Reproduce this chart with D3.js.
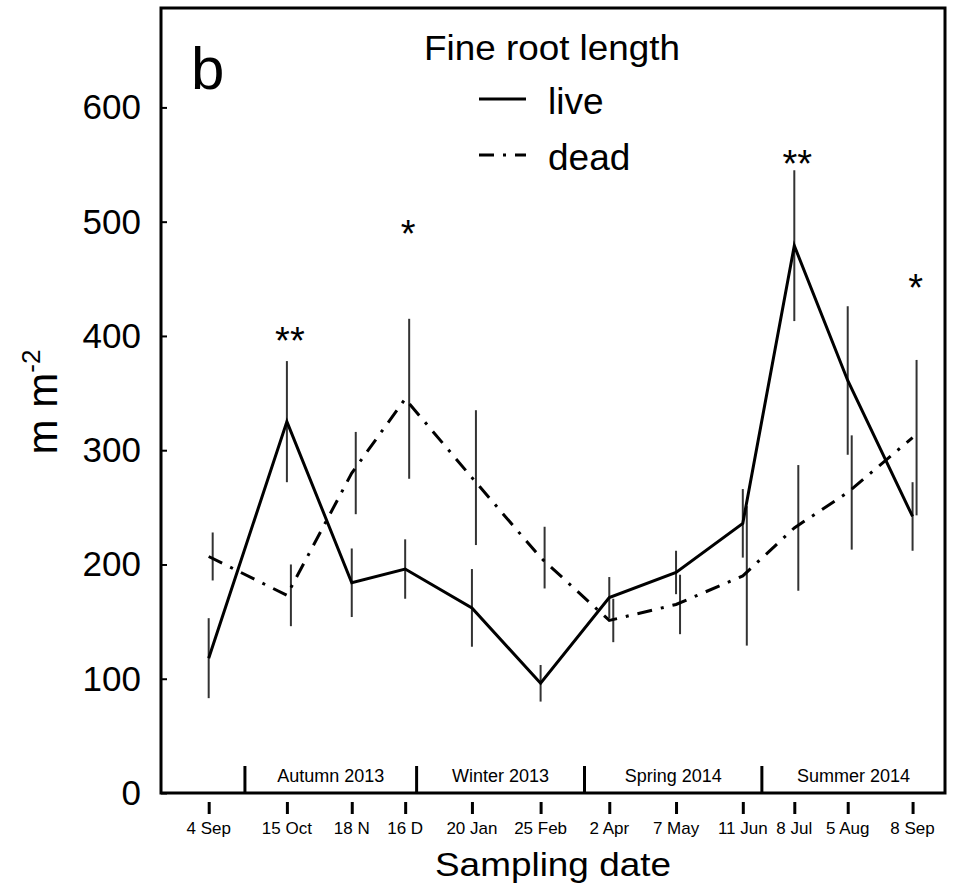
<!DOCTYPE html>
<html>
<head>
<meta charset="utf-8">
<script src="https://cdn.jsdelivr.net/npm/d3@7"></script>
<style>
  body { margin: 0; background: #fff; }
  text { font-family: "Liberation Sans", Arial, sans-serif; fill: #000; }
  .narrow { font-family: "Liberation Sans Narrow", "Arial Narrow", "Liberation Sans", sans-serif; }
</style>
</head>
<body>
<svg id="chart"></svg>
<script>
// sampling dates and values (m m-2)
const dates = ["2013-09-04", "2013-10-15", "2013-11-18", "2013-12-16", "2014-01-20", "2014-02-25",
               "2014-04-02", "2014-05-07", "2014-06-11", "2014-07-08", "2014-08-05", "2014-09-08"];
const dateLabels = ["4 Sep", "15 Oct", "18 N", "16 D", "20 Jan", "25 Feb",
                    "2 Apr", "7 May", "11 Jun", "8 Jul", "5 Aug", "8 Sep"];
const live    = [118, 325, 184, 196, 162, 96, 171, 193, 236, 479, 361, 242];
const liveErr = [35, 53, 30, 26, 34, 16, 18, 19, 30, 66, 65, 30];
const dead    = [207, 173, 280, 345, 276, 206, 151, 165, 190, 232, 263, 311];
const deadErr = [21, 27, 36, 70, 59, 27, 19, 26, 61, 55, 50, 68];

// significance marks
const sigDates = ["2013-10-15", "2013-12-16", "2014-07-08", "2014-09-08"];
const sigMarks = ["**", "*", "**", "*"];
const sigLevel = [405, 499, 560, 452];

// seasons
const seasonBreaks = ["2013-09-23", "2013-12-22", "2014-03-20", "2014-06-21"];
const seasonNames = ["Autumn 2013", "Winter 2013", "Spring 2014", "Summer 2014"];
const axisStart = "2013-08-10", axisEnd = "2014-09-25";
const yTicks = [0, 100, 200, 300, 400, 500, 600];

const parse = d3.timeParse("%Y-%m-%d");

let width = 953, height = 889;
let margin = { top: 8, right: 8, bottom: 96, left: 161 };

let svg = d3.select('#chart')
    .attr('width', width)
    .attr('height', height)
    .style('background', '#fff');

let xScale = d3.scaleTime()
    .domain([parse(axisStart), parse(axisEnd)])
    .range([margin.left, width - margin.right]);

let yScale = d3.scaleLinear()
    .domain([0, 687])
    .range([height - margin.bottom, margin.top]);

const x0 = margin.left, x1 = width - margin.right;
const yB = height - margin.bottom, yT = margin.top;

// frame
svg.append('path')
    .attr('d', `M${x0},${yT}H${x1}V${yB}H${x0}Z`)
    .attr('fill', 'none')
    .attr('stroke', '#000')
    .attr('stroke-width', 3);

// y axis (ticks inside)
let yAxis = svg.append('g')
    .attr('transform', `translate(${x0},0)`)
    .call(d3.axisRight(yScale).tickValues(yTicks).tickSize(6).tickFormat(''));
yAxis.select('.domain').remove();
yAxis.selectAll('line').attr('stroke-width', 2);

svg.append('g').selectAll('text')
    .data(yTicks)
    .enter().append('text')
    .attr('x', 141)
    .attr('y', d => yScale(d) + 12)
    .attr('text-anchor', 'end')
    .style('font-size', '35px')
    .text(d => d);

// x axis ticks, offset below the frame
let xAxis = svg.append('g')
    .attr('transform', `translate(0,${yB + 9})`)
    .call(d3.axisBottom(xScale).tickValues(dates.map(parse)).tickSize(12).tickFormat(''));
xAxis.select('.domain').remove();
xAxis.selectAll('line').attr('stroke-width', 3);

svg.append('g').selectAll('text')
    .data(dates)
    .enter().append('text')
    .attr('class', 'narrow')
    .attr('x', d => xScale(parse(d)))
    .attr('y', yB + 41)
    .attr('text-anchor', 'middle')
    .style('font-size', '17px')
    .text((d, i) => dateLabels[i]);

// season band
svg.append('g').selectAll('line')
    .data(seasonBreaks)
    .enter().append('line')
    .attr('x1', d => xScale(parse(d)))
    .attr('x2', d => xScale(parse(d)))
    .attr('y1', yB - 27)
    .attr('y2', yB)
    .attr('stroke', '#000')
    .attr('stroke-width', 3);

const seasonEdges = seasonBreaks.map(d => xScale(parse(d))).concat([x1]);
svg.append('g').selectAll('text')
    .data(seasonNames)
    .enter().append('text')
    .attr('class', 'narrow')
    .attr('x', (d, i) => (seasonEdges[i] + seasonEdges[i + 1]) / 2)
    .attr('y', yB - 11)
    .attr('text-anchor', 'middle')
    .style('font-size', '18px')
    .text(d => d);

// series
const line = d3.line()
    .x(d => xScale(parse(d.date)))
    .y(d => yScale(d.v));

const liveData = dates.map((d, i) => ({ date: d, v: live[i], e: liveErr[i] }));
const deadData = dates.map((d, i) => ({ date: d, v: dead[i], e: deadErr[i] }));

function errorBars(data, dx) {
    svg.append('g').selectAll('line')
        .data(data)
        .enter().append('line')
        .attr('x1', d => xScale(parse(d.date)) + dx)
        .attr('x2', d => xScale(parse(d.date)) + dx)
        .attr('y1', d => yScale(d.v - d.e))
        .attr('y2', d => yScale(d.v + d.e))
        .attr('stroke', '#333')
        .attr('stroke-width', 2);
}
errorBars(liveData, 0);
errorBars(deadData, 4);

svg.append('path')
    .datum(deadData)
    .attr('d', line)
    .attr('fill', 'none')
    .attr('stroke', '#000')
    .attr('stroke-width', 3)
    .attr('stroke-dasharray', '15,9,3,9');

svg.append('path')
    .datum(liveData)
    .attr('d', line)
    .attr('fill', 'none')
    .attr('stroke', '#000')
    .attr('stroke-width', 3);

// significance stars
svg.append('g').selectAll('text')
    .data(sigDates)
    .enter().append('text')
    .attr('x', d => xScale(parse(d)) + 3)
    .attr('y', (d, i) => yScale(sigLevel[i]) + 24)
    .attr('text-anchor', 'middle')
    .style('font-size', '38px')
    .text((d, i) => sigMarks[i]);

// panel letter
svg.append('text')
    .attr('x', 191)
    .attr('y', 89)
    .style('font-size', '60px')
    .text('b');

// legend
svg.append('text')
    .attr('x', 424)
    .attr('y', 60)
    .attr('textLength', 256)
    .attr('lengthAdjust', 'spacingAndGlyphs')
    .style('font-size', '35px')
    .text('Fine root length');

const legend = svg.selectAll('.legend')
    .data([{ name: 'live', dash: null }, { name: 'dead', dash: '15,9,3,9' }])
    .enter().append('g')
    .attr('class', 'legend')
    .attr('transform', (d, i) => `translate(479,${99 + i * 56})`);

legend.append('line')
    .attr('x1', 0).attr('x2', 47)
    .attr('stroke', '#000')
    .attr('stroke-width', 3)
    .attr('stroke-dasharray', d => d.dash);

legend.append('text')
    .attr('x', 69)
    .attr('y', 15)
    .style('font-size', '37px')
    .text(d => d.name);

// axis titles
svg.append('text')
    .attr('x', 553)
    .attr('y', 876)
    .attr('text-anchor', 'middle')
    .attr('textLength', 236)
    .attr('lengthAdjust', 'spacingAndGlyphs')
    .style('font-size', '33px')
    .text('Sampling date');

const yTitle = svg.append('text')
    .attr('transform', 'translate(57,402) rotate(-90)')
    .attr('text-anchor', 'middle')
    .style('font-size', '42px');
yTitle.append('tspan').text('m m');
yTitle.append('tspan').attr('dy', -17).style('font-size', '26px').text('-2');
</script>
</body>
</html>
